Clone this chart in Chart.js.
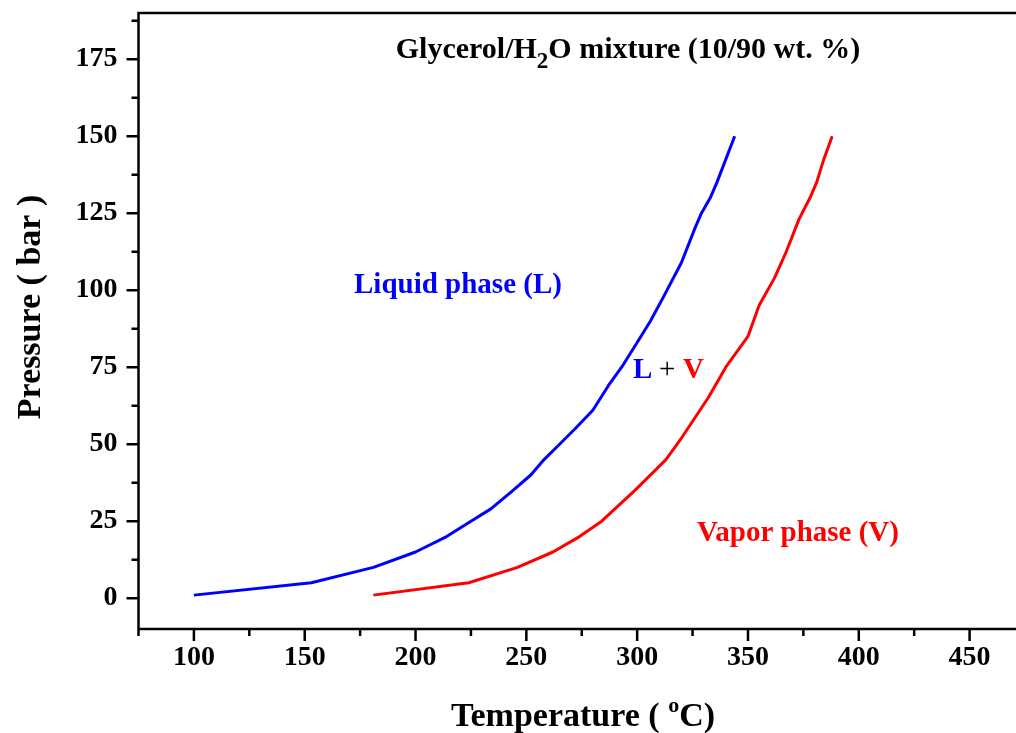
<!DOCTYPE html>
<html>
<head>
<meta charset="utf-8">
<script src="https://cdn.jsdelivr.net/npm/chart.js@4.4.1/dist/chart.umd.min.js"></script>
<style>
  html, body { margin: 0; padding: 0; background: #fff; overflow: hidden; }
  #wrap { width: 1030px; height: 733px; }
</style>
</head>
<body>
<div id="wrap"><canvas id="pt" width="1030" height="733"></canvas></div>
<script>
// liquid (bubble) curve, temperature in C / pressure in bar
const liquidT = [100, 153, 181, 200, 214, 225, 234, 244, 252, 258, 265, 272, 280, 287, 293, 300, 306, 312, 320, 326, 329, 333, 336, 344];
const liquidP = [1, 5, 10, 15, 20, 25, 29, 35, 40, 45, 50, 55, 61, 69, 75, 83, 90, 98, 109, 120, 125, 130, 135, 150];

// vapor (dew) curve
const vaporT = [181, 224, 246, 262, 274, 284, 299, 313, 320, 332, 340, 350, 355, 362, 367, 373, 378, 381, 384, 388];
const vaporP = [1, 5, 10, 15, 20, 25, 35, 45, 52, 65, 75, 85, 95, 104, 112, 123, 130, 135, 142, 150];

const xTickValues = [100, 150, 200, 250, 300, 350, 400, 450];
const yTickValues = [0, 25, 50, 75, 100, 125, 150, 175];
const xMinorTicks = [75, 125, 175, 225, 275, 325, 375, 425, 475];
const yMinorTicks = [12.5, 37.5, 62.5, 87.5, 112.5, 137.5, 162.5, 187.5];

const SERIF = '"Liberation Serif", "Times New Roman", serif';

const toPoints = (xs, ys) => xs.map((x, i) => ({ x: x, y: ys[i] }));

// axis frame, tick marks and the text annotations
const framePlugin = {
  id: 'frame',
  afterDraw(chart) {
    const ctx = chart.ctx;
    const area = chart.chartArea;
    const xs = chart.scales.x;
    const ys = chart.scales.y;
    ctx.save();
    ctx.strokeStyle = '#000';
    ctx.lineWidth = 2.5;
    ctx.lineCap = 'butt';

    ctx.beginPath();
    ctx.moveTo(area.left, area.bottom);
    ctx.lineTo(chart.width, area.bottom);
    ctx.moveTo(area.left, area.bottom);
    ctx.lineTo(area.left, area.top);
    ctx.moveTo(area.left - 1.25, area.top);
    ctx.lineTo(chart.width, area.top);
    ctx.stroke();

    ctx.beginPath();
    xTickValues.forEach(v => {
      const px = xs.getPixelForValue(v);
      ctx.moveTo(px, area.bottom);
      ctx.lineTo(px, area.bottom + 12);
    });
    xMinorTicks.forEach(v => {
      const px = xs.getPixelForValue(v);
      ctx.moveTo(px, area.bottom);
      ctx.lineTo(px, area.bottom + 7);
    });
    yTickValues.forEach(v => {
      const py = ys.getPixelForValue(v);
      ctx.moveTo(area.left, py);
      ctx.lineTo(area.left - 12, py);
    });
    yMinorTicks.forEach(v => {
      const py = ys.getPixelForValue(v);
      ctx.moveTo(area.left, py);
      ctx.lineTo(area.left - 7, py);
    });
    ctx.stroke();

    ctx.textBaseline = 'alphabetic';
    ctx.textAlign = 'left';

    // title with subscript
    const t1 = 'Glycerol/H', t2 = '2', t3 = 'O mixture (10/90 wt. %)';
    ctx.font = 'bold 30px ' + SERIF;
    const w1 = ctx.measureText(t1).width, w3 = ctx.measureText(t3).width;
    ctx.font = 'bold 23px ' + SERIF;
    const w2 = ctx.measureText(t2).width;
    let tx = 628 - (w1 + w2 + w3) / 2;
    ctx.fillStyle = '#000';
    ctx.font = 'bold 30px ' + SERIF;
    ctx.fillText(t1, tx, 58);
    ctx.font = 'bold 23px ' + SERIF;
    ctx.fillText(t2, tx + w1, 68);
    ctx.font = 'bold 30px ' + SERIF;
    ctx.fillText(t3, tx + w1 + w2, 58);

    // region labels
    ctx.font = 'bold 29px ' + SERIF;
    ctx.fillStyle = '#0000ff';
    ctx.fillText('Liquid phase (L)', 354, 293);
    ctx.fillText('L', 633, 378);
    ctx.font = '29px ' + SERIF;
    ctx.fillStyle = '#000';
    ctx.fillText('+', 659, 378);
    ctx.font = 'bold 29px ' + SERIF;
    ctx.fillStyle = '#ff0000';
    ctx.fillText('V', 683, 378);
    ctx.fillText('Vapor phase (V)', 697, 541);

    // axis titles
    ctx.fillStyle = '#000';
    const a1 = 'Temperature ( ', a2 = 'o', a3 = 'C)';
    ctx.font = 'bold 34px ' + SERIF;
    const b1 = ctx.measureText(a1).width, b3 = ctx.measureText(a3).width;
    ctx.font = 'bold 22px ' + SERIF;
    const b2 = ctx.measureText(a2).width;
    let ax = 583 - (b1 + b2 + b3) / 2;
    ctx.font = 'bold 34px ' + SERIF;
    ctx.fillText(a1, ax, 726);
    ctx.font = 'bold 22px ' + SERIF;
    ctx.fillText(a2, ax + b1, 712);
    ctx.font = 'bold 34px ' + SERIF;
    ctx.fillText(a3, ax + b1 + b2, 726);

    ctx.translate(31, 307);
    ctx.rotate(-Math.PI / 2);
    ctx.textAlign = 'center';
    ctx.textBaseline = 'middle';
    ctx.fillText('Pressure ( bar )', 0, 0);
    ctx.restore();
  }
};

const tickFont = { family: SERIF, size: 28, weight: 'bold' };

new Chart(document.getElementById('pt'), {
  type: 'scatter',
  data: {
    datasets: [
      {
        label: 'Liquid phase (L)',
        data: toPoints(liquidT, liquidP),
        showLine: true,
        borderColor: '#0000ff',
        borderWidth: 3,
        pointRadius: 0,
        tension: 0,
        borderJoinStyle: 'round'
      },
      {
        label: 'Vapor phase (V)',
        data: toPoints(vaporT, vaporP),
        showLine: true,
        borderColor: '#ff0000',
        borderWidth: 3,
        pointRadius: 0,
        tension: 0,
        borderJoinStyle: 'round'
      }
    ]
  },
  options: {
    responsive: false,
    animation: false,
    devicePixelRatio: 1,
    layout: { padding: { top: 13, right: 5, left: 0, bottom: 0 } },
    plugins: {
      legend: { display: false },
      tooltip: { enabled: false }
    },
    scales: {
      x: {
        type: 'linear',
        min: 75,
        max: 475,
        grid: { display: false, drawTicks: false },
        border: { display: false },
        afterBuildTicks: s => { s.ticks = xTickValues.map(v => ({ value: v })); },
        afterFit: s => { s.height = 104; s.paddingLeft = 0; s.paddingRight = 0; },
        ticks: { color: '#000', font: tickFont, padding: 12, maxRotation: 0, autoSkip: false }
      },
      y: {
        type: 'linear',
        min: -10,
        max: 190,
        grid: { display: false, drawTicks: false },
        border: { display: false },
        afterBuildTicks: s => { s.ticks = yTickValues.map(v => ({ value: v })); },
        afterFit: s => { s.width = 138.5; s.paddingTop = 0; s.paddingBottom = 0; },
        ticks: { color: '#000', font: tickFont, padding: 21, autoSkip: false }
      }
    }
  },
  plugins: [framePlugin]
});
</script>
</body>
</html>
